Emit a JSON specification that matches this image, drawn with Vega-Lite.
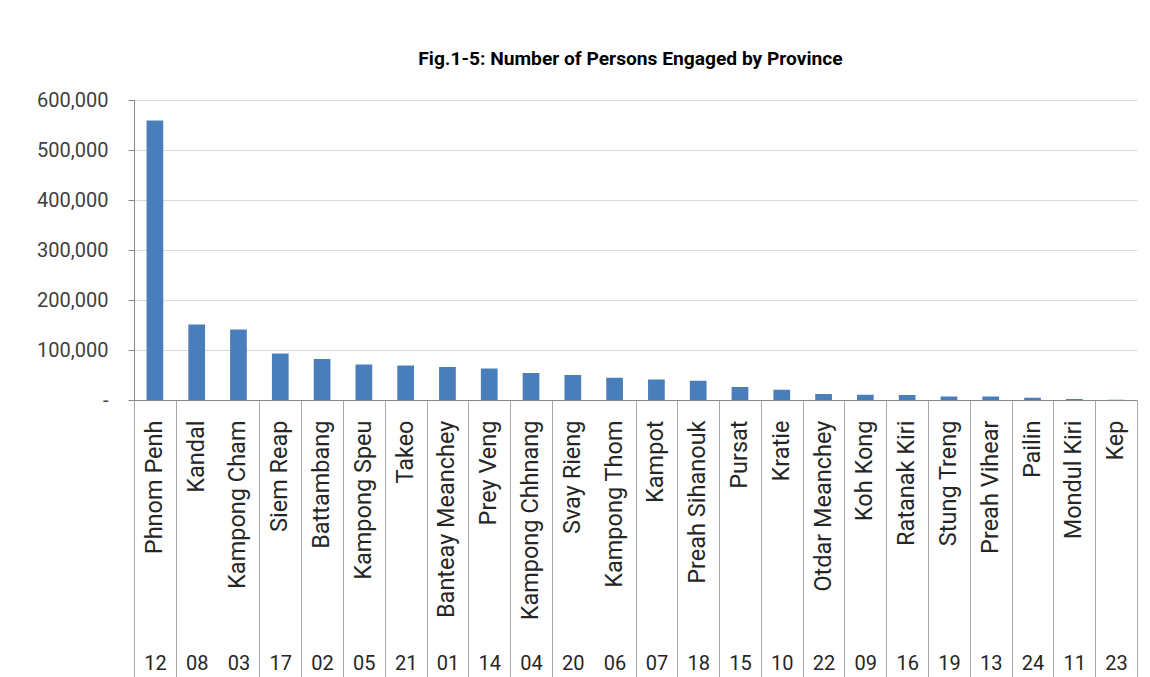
{
  "$schema": "https://vega.github.io/schema/vega-lite/v6.json",
  "width": 1003,
  "height": 300,
  "autosize": "none",
  "padding": {"left": 134, "top": 100, "right": 13, "bottom": 277},
  "background": "white",
  "config": {"view": {"stroke": null}},
  "title": {
    "text": "Fig.1-5: Number of Persons Engaged by Province",
    "font": "Roboto",
    "fontSize": 19.2,
    "fontWeight": "bold",
    "color": "#000000",
    "anchor": "middle",
    "dx": -5,
    "offset": 21
  },
  "data": {
    "values": [
      {"code": "12", "province": "Phnom Penh", "persons": 559000},
      {"code": "08", "province": "Kandal", "persons": 151000},
      {"code": "03", "province": "Kampong Cham", "persons": 141000},
      {"code": "17", "province": "Siem Reap", "persons": 93000},
      {"code": "02", "province": "Battambang", "persons": 82000},
      {"code": "05", "province": "Kampong Speu", "persons": 71000},
      {"code": "21", "province": "Takeo", "persons": 69000},
      {"code": "01", "province": "Banteay Meanchey", "persons": 66000},
      {"code": "14", "province": "Prey Veng", "persons": 63000},
      {"code": "04", "province": "Kampong Chhnang", "persons": 54000},
      {"code": "20", "province": "Svay Rieng", "persons": 50000},
      {"code": "06", "province": "Kampong Thom", "persons": 44500},
      {"code": "07", "province": "Kampot", "persons": 41000},
      {"code": "18", "province": "Preah Sihanouk", "persons": 38500},
      {"code": "15", "province": "Pursat", "persons": 26000},
      {"code": "10", "province": "Kratie", "persons": 20500},
      {"code": "22", "province": "Otdar Meanchey", "persons": 12000},
      {"code": "09", "province": "Koh Kong", "persons": 10500},
      {"code": "16", "province": "Ratanak Kiri", "persons": 10000},
      {"code": "19", "province": "Stung Treng", "persons": 7000},
      {"code": "13", "province": "Preah Vihear", "persons": 7000},
      {"code": "24", "province": "Pailin", "persons": 4500},
      {"code": "11", "province": "Mondul Kiri", "persons": 2000},
      {"code": "23", "province": "Kep", "persons": 500}
    ]
  },
  "layer": [
    {
      "mark": {"type": "bar", "color": "#4A7EBB"},
      "encoding": {
        "x": {
          "field": "province",
          "type": "nominal",
          "sort": null,
          "scale": {"paddingInner": 0.6, "paddingOuter": 0.3},
          "axis": {
            "title": null,
            "orient": "bottom",
            "labelAngle": -90,
            "labelPadding": 20,
            "ticks": false,
            "grid": false,
            "domain": true,
            "domainColor": "#868686",
            "domainWidth": 1,
            "labelFont": "Roboto",
            "labelFontSize": 23.5,
            "labelColor": "#262626",
            "labelLimit": 300,
            "labelOverlap": false
          }
        },
        "y": {
          "field": "persons",
          "type": "quantitative",
          "scale": {"domain": [0, 600000], "nice": false},
          "axis": {
            "title": null,
            "values": [0, 100000, 200000, 300000, 400000, 500000, 600000],
            "format": ",.0f",
            "labelExpr": "datum.value === 0 ? '-' : datum.label",
            "labelFont": "Roboto",
            "labelFontSize": 20,
            "labelColor": "#404040",
            "labelPadding": 20,
            "tickSize": 6,
            "tickColor": "#868686",
            "domainColor": "#868686",
            "grid": true,
            "gridColor": "#D9D9D9"
          }
        }
      }
    },
    {
      "mark": {"type": "bar", "opacity": 0},
      "encoding": {
        "x": {
          "field": "code",
          "type": "nominal",
          "sort": null,
          "scale": {"paddingInner": 0, "paddingOuter": 0},
          "axis": {
            "title": null,
            "orient": "bottom",
            "labelAngle": 0,
            "domain": false,
            "grid": false,
            "tickBand": "extent",
            "tickSize": 280,
            "tickColor": "#A6A6A6",
            "tickOpacity": {"condition": {"test": "datum.value === '08' || datum.value === '20'", "value": 0}, "value": 1},
            "labelPadding": -27,
            "labelFont": "Roboto",
            "labelFontSize": 20,
            "labelColor": "#262626",
            "labelOverlap": false
          }
        }
      }
    }
  ],
  "resolve": {"scale": {"x": "independent"}, "axis": {"x": "independent"}}
}
